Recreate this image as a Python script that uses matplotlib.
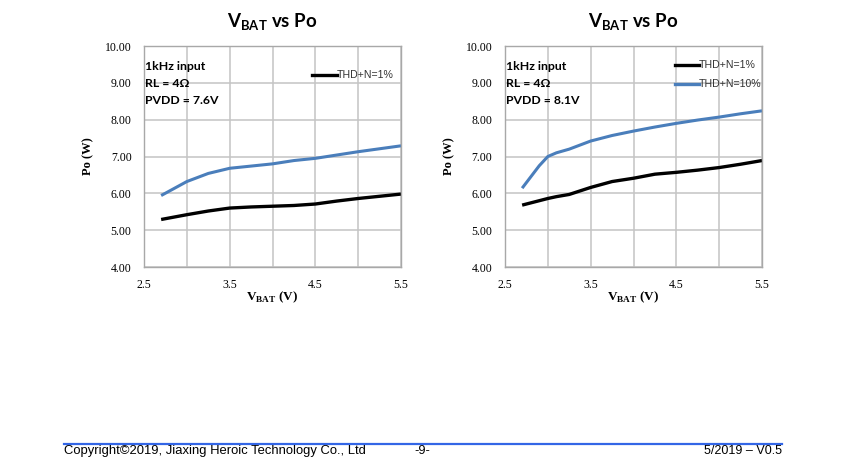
import matplotlib
matplotlib.use("Agg")
import matplotlib.pyplot as plt
from matplotlib.lines import Line2D

plt.rcParams["mathtext.fontset"] = "custom"
plt.rcParams["mathtext.bf"] = "Liberation Serif:bold"
plt.rcParams["mathtext.sf"] = "Lato:bold"
plt.rcParams["mathtext.rm"] = "Liberation Serif"

# ---- data ----
vbat = [2.7, 3.0, 3.25, 3.5, 3.75, 4.0, 4.25, 4.5, 4.75, 5.0, 5.25, 5.5]
left_thd1 = [5.29, 5.42, 5.52, 5.60, 5.63, 5.65, 5.67, 5.71, 5.79, 5.86, 5.92, 5.98]
left_thd10 = [5.94, 6.32, 6.54, 6.68, 6.74, 6.80, 6.89, 6.95, 7.04, 7.13, 7.21, 7.29]

vbat_r = [2.7, 2.9, 3.0, 3.1, 3.25, 3.5, 3.75, 4.0, 4.25, 4.5, 4.75, 5.0, 5.25, 5.5]
right_thd1 = [5.68, 5.80, 5.86, 5.91, 5.97, 6.16, 6.32, 6.41, 6.52, 6.57, 6.63, 6.70, 6.79, 6.89]
right_thd10 = [6.14, 6.75, 7.00, 7.10, 7.20, 7.42, 7.57, 7.69, 7.80, 7.90, 7.99, 8.07, 8.16, 8.24]

xticks = [2.5, 3.0, 3.5, 4.0, 4.5, 5.0, 5.5]
xticklabels = ["2.5", "", "3.5", "", "4.5", "", "5.5"]
yticks = [4, 5, 6, 7, 8, 9, 10]
yticklabels = ["4.00", "5.00", "6.00", "7.00", "8.00", "9.00", "10.00"]

left_notes = ["1kHz input", "RL = 4Ω", "PVDD = 7.6V"]
right_notes = ["1kHz input", "RL = 4Ω", "PVDD = 8.1V"]

BLACK = "#000000"
BLUE = "#4a7ebb"
GRID = "#c4c4c4"

fig = plt.figure(figsize=(8.5, 4.68), dpi=100)

def make_axes(rect, x1, y1, x10, y10, notes):
    ax = fig.add_axes(rect)
    ax.set_xlim(2.5, 5.5)
    ax.set_ylim(4, 10)
    ax.set_xticks(xticks)
    ax.set_xticklabels(xticklabels, family="Liberation Serif", fontsize=8.5)
    ax.set_yticks(yticks)
    ax.set_yticklabels(yticklabels, family="Liberation Serif", fontsize=8.5)
    ax.tick_params(axis="y", length=0, pad=9)
    ax.tick_params(axis="x", length=0, pad=8.5)
    ax.grid(True, color=GRID, lw=1.1)
    ax.set_axisbelow(True)
    for s in ax.spines.values():
        s.set_color("#a8a8a8")
        s.set_linewidth(1.0)
    ax.plot(x1, y1, color=BLACK, lw=2.4, solid_capstyle="butt")
    ax.plot(x10, y10, color=BLUE, lw=2.2, solid_capstyle="butt")
    ax.text(-0.218, 0.5, "Po (W)", transform=ax.transAxes, family="Liberation Serif",
            fontweight="bold", fontsize=9, rotation=90, ha="center", va="center")
    ax.text(0.5, -0.136, r"V$_{\mathbf{BAT}}$ (V)", transform=ax.transAxes, family="Liberation Serif",
            fontweight="bold", fontsize=9.5, ha="center", va="center")
    ax.set_title(r"V$_{\mathsf{BAT}}$ vs Po", family="Lato", fontweight="bold", fontsize=13.5, pad=13)
    for i, t in enumerate(notes):
        ax.text(0.004, 0.907 - i * 0.077, t, transform=ax.transAxes, family="Lato",
                fontweight="bold", fontsize=8.8, va="center", ha="left")
    return ax

axL = make_axes([144/850, 1-267/468, 257/850, 221/468], vbat, left_thd1, vbat, left_thd10, left_notes)
axR = make_axes([505/850, 1-267/468, 257/850, 221/468], vbat_r, right_thd1, vbat_r, right_thd10, right_notes)

# legends (drawn manually as in the reference)
def legend_entry(ax, x0, y, color, label):
    ax.add_line(Line2D([x0, x0 + 0.095], [y, y], transform=ax.transAxes, color=color, lw=2.4, clip_on=False))
    ax.text(x0 + 0.095, y, label, transform=ax.transAxes, family="Liberation Sans", fontsize=7.6,
            va="center", ha="left", color="#333333")

legend_entry(axL, 0.655, 0.868, BLACK, "THD+N=1%")
legend_entry(axR, 0.66, 0.913, BLACK, "THD+N=1%")
legend_entry(axR, 0.66, 0.826, BLUE, "THD+N=10%")

# footer
fig.add_artist(Line2D([64/850, 782/850], [1-444/468, 1-444/468], color="#3366e6", lw=1.6))
fig.text(64/850, 1-451/468, "Copyright©2019, Jiaxing Heroic Technology Co., Ltd", family="Liberation Sans",
         fontsize=9.4, va="center", ha="left")
fig.text(422/850, 1-451/468, "-9-", family="Liberation Sans", fontsize=9.2, va="center", ha="center")
fig.text(782/850, 1-451/468, "5/2019 – V0.5", family="Liberation Sans", fontsize=9.0, va="center", ha="right")

fig.savefig("out.png", dpi=100)
